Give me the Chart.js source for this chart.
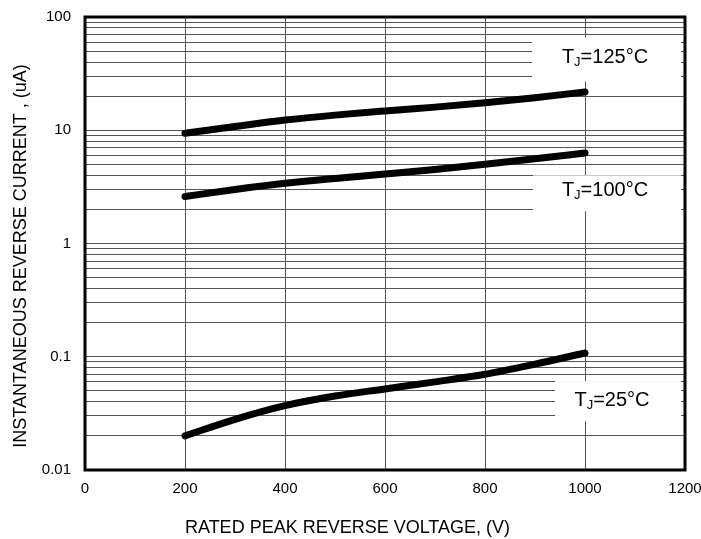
<!DOCTYPE html>
<html>
<head>
<meta charset="utf-8">
<script src="https://cdn.jsdelivr.net/npm/chart.js@4/dist/chart.umd.min.js"></script>
<style>
  html, body { margin: 0; padding: 0; background: #fff; overflow: hidden; }
  #wrap { width: 701px; height: 539px; }
</style>
</head>
<body>
<div id="wrap"><canvas id="chart"></canvas></div>
<script>
// data
var voltage = [200, 300, 400, 500, 600, 700, 800, 900, 1000];
var i125 = [9.4, 10.8, 12.3, 13.6, 14.8, 16.0, 17.5, 19.4, 21.8];
var i100 = [2.6, 3.0, 3.4, 3.75, 4.1, 4.5, 5.0, 5.6, 6.3];
var i25 = [0.020, 0.028, 0.037, 0.045, 0.052, 0.060, 0.070, 0.086, 0.108];

var xTicks = [0, 200, 400, 600, 800, 1000, 1200];
var yLabels = [0.01, 0.1, 1, 10, 100];

// series labels: text, centre (data units), box corners (data units)
var labelNames = ["125°C", "100°C", "25°C"];
var labelPos = [[1040, 44], [1040, 2.95], [1054, 0.041]];
var labelBox = [[[894, 1192], [66, 27]], [[896, 1192], [4.0, 1.92]], [[940, 1192], [0.061, 0.027]]];

function toXY(arr) {
    var out = [];
    for (var i = 0; i < voltage.length; i++) {
        out.push({x: voltage[i], y: arr[i]});
    }
    return out;
}

//every 1..9 step of each decade gets a grid line
var yGrid = [];
for (var e = -2; e <= 1; e++) {
    for (var m = 1; m <= 9; m++) {
        yGrid.push(+(m * Math.pow(10, e)).toPrecision(3));
    }
}
yGrid.push(100);

var font = "'Liberation Sans', Arial, sans-serif";

function lineSet(arr) {
    return {
        data: toXY(arr),
        borderColor: "#000",
        borderWidth: 7,
        borderCapStyle: "round",
        pointRadius: 0,
        tension: 0.3,
        cubicInterpolationMode: "monotone",
        fill: false
    };
}

function noPad(s) {
    s.paddingLeft = 0;
    s.paddingRight = 0;
    s.paddingTop = 0;
    s.paddingBottom = 0;
}

//labels with white boxes and the thick frame
var extras = {
    id: "extras",
    afterDatasetsDraw: function(chart) {
        var ctx = chart.ctx;
        var xs = chart.scales.x, ys = chart.scales.y;
        ctx.save();
        for (var i = 0; i < labelNames.length; i++) {
            var b = labelBox[i];
            var x0 = xs.getPixelForValue(b[0][0]), x1 = xs.getPixelForValue(b[0][1]);
            var y0 = ys.getPixelForValue(b[1][0]), y1 = ys.getPixelForValue(b[1][1]);
            ctx.fillStyle = "#fff";
            ctx.fillRect(x0, y0, x1 - x0, y1 - y0);

            var cx = xs.getPixelForValue(labelPos[i][0]);
            var cy = ys.getPixelForValue(labelPos[i][1]);
            ctx.fillStyle = "#000";
            ctx.textBaseline = "middle";
            ctx.font = "20px " + font;
            var wT = ctx.measureText("T").width;
            var wR = ctx.measureText("=" + labelNames[i]).width;
            ctx.font = "13px " + font;
            var wJ = ctx.measureText("J").width;
            var left = cx - (wT + wJ + wR) / 2;
            ctx.font = "20px " + font;
            ctx.textAlign = "left";
            ctx.fillText("T", left, cy);
            ctx.font = "13px " + font;
            ctx.fillText("J", left + wT, cy + 5);
            ctx.font = "20px " + font;
            ctx.fillText("=" + labelNames[i], left + wT + wJ, cy);
        }
        var a = chart.chartArea;
        ctx.strokeStyle = "#000";
        ctx.lineWidth = 3;
        ctx.strokeRect(a.left, a.top, a.right - a.left, a.bottom - a.top);
        ctx.restore();
    }
};

var chart = new Chart(document.getElementById("chart"), {
    type: "line",
    data: {
        datasets: [lineSet(i125), lineSet(i100), lineSet(i25)]
    },
    options: {
        responsive: true,
        maintainAspectRatio: false,
        animation: false,
        layout: {padding: {left: 6, right: 16, top: 17, bottom: 0}},
        plugins: {legend: {display: false}, tooltip: {enabled: false}},
        scales: {
            x: {
                type: "linear",
                min: 0,
                max: 1200,
                afterBuildTicks: function(s) {
                    s.ticks = xTicks.map(function(v) { return {value: v}; });
                },
                afterFit: function(s) { s.height = 69; noPad(s); },
                grid: {color: "#555", lineWidth: 1, drawTicks: false},
                border: {display: false},
                ticks: {
                    color: "#000",
                    font: {family: font, size: 15},
                    padding: 10,
                    maxRotation: 0,
                    callback: function(v) { return String(v); }
                },
                //trailing spaces push the title left of the plot centre, as in the source
                title: {display: true, text: "RATED PEAK REVERSE VOLTAGE, (V)               ", color: "#000",
                        font: {family: font, size: 18}, padding: {top: 4, bottom: 0}}
            },
            y: {
                type: "logarithmic",
                min: 0.01,
                max: 100,
                afterBuildTicks: function(s) {
                    s.ticks = yGrid.map(function(v) { return {value: v}; });
                },
                afterFit: function(s) { s.width = 79; noPad(s); },
                grid: {color: "#555", lineWidth: 1, drawTicks: false},
                border: {display: false},
                ticks: {
                    color: "#000",
                    font: {family: font, size: 15},
                    padding: 14,
                    autoSkip: false,
                    callback: function(v) {
                        return yLabels.indexOf(v) >= 0 ? String(v) : "";
                    }
                },
                title: {display: true, text: "INSTANTANEOUS REVERSE CURRENT , (uA)     ", color: "#000",
                        font: {family: font, size: 18}, padding: {top: 4, bottom: 4}}
            }
        }
    },
    plugins: [extras]
});
</script>
</body>
</html>
